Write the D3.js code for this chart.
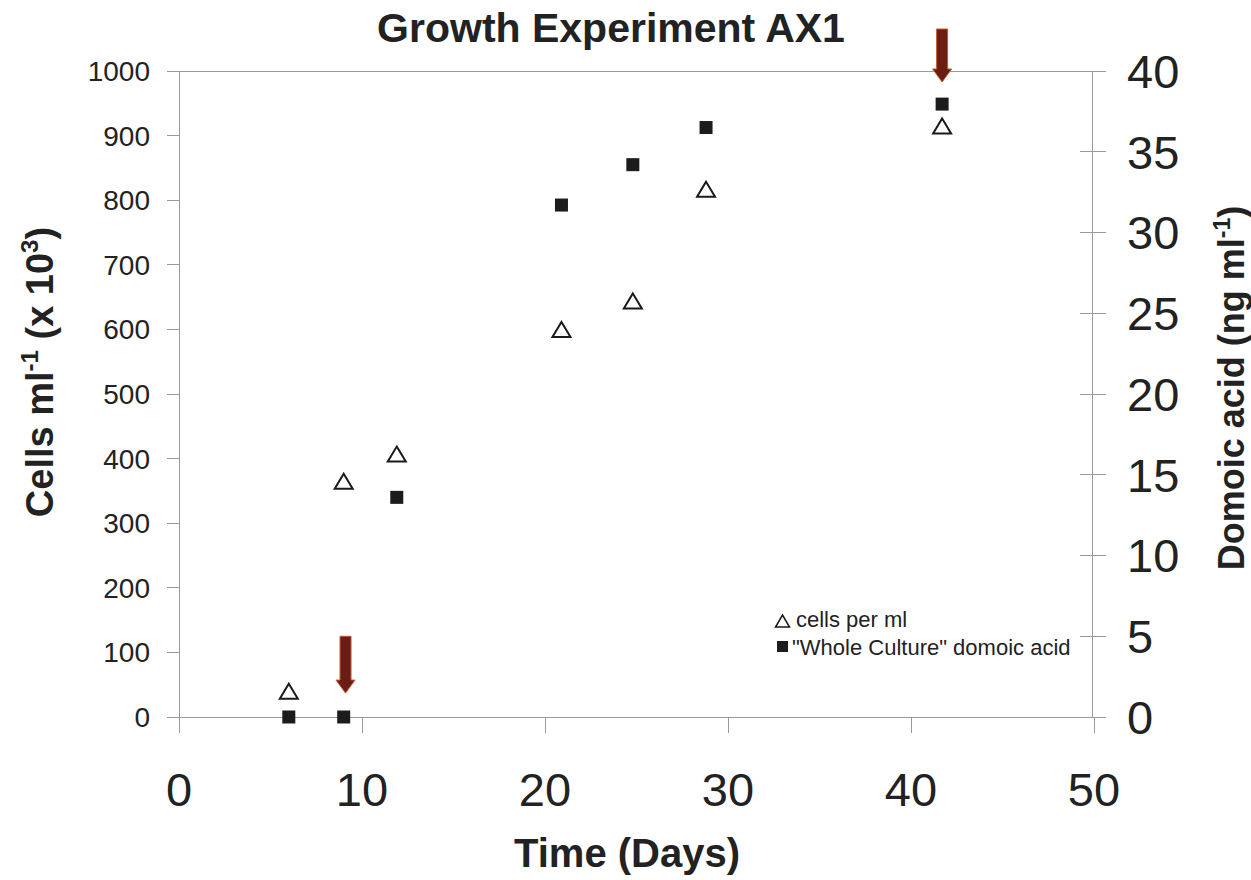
<!DOCTYPE html>
<html>
<head>
<meta charset="utf-8">
<script src="https://cdn.jsdelivr.net/npm/d3@7"></script>
<style>
  html, body { margin: 0; padding: 0; background: #fff; }
  svg { display: block; font-family: "Liberation Sans", Arial, sans-serif; }
</style>
</head>
<body>
<svg id="chart" width="1251" height="880"></svg>
<script>
// Sampling days and measurements
const days = [6, 9, 11.9, 20.9, 24.8, 28.8, 41.7];
const cellsPerMl = [40, 365, 407, 600, 644, 817, 915];          // x 10^3 cells per ml
const domoicAcid = [0, 0, 13.6, 31.7, 34.2, 36.5, 37.95];      // ng per ml

// Tick labels
const xTicks = [0, 10, 20, 30, 40, 50];
const yLeftTicks = [0, 100, 200, 300, 400, 500, 600, 700, 800, 900, 1000];
const yRightTicks = [0, 5, 10, 15, 20, 25, 30, 35, 40];

// Arrow annotations: day, start and end on the cells axis
const arrowDays = [9.1, 41.7];
const arrowFrom = [125, 1065];
const arrowTo = [37, 983];

const svg = d3.select("#chart");
const axisColor = "#9a9a9a";

const x = d3.scaleLinear().domain([0, 50]).range([179, 1094]);
const yL = d3.scaleLinear().domain([0, 1000]).range([717, 71]);
const yR = d3.scaleLinear().domain([0, 40]).range([717, 71]);

// Frame lines: top border, left axis, bottom axis, right axis
const g = svg.append("g").attr("stroke", axisColor).attr("stroke-width", 1).attr("shape-rendering", "crispEdges");
g.append("line").attr("x1", x(0) - 12).attr("x2", x(50) + 12).attr("y1", yL(1000)).attr("y2", yL(1000));
g.append("line").attr("x1", x(0)).attr("x2", x(0)).attr("y1", yL(1000)).attr("y2", yL(0) + 16);
g.append("line").attr("x1", x(0) - 12).attr("x2", x(50) + 12).attr("y1", yL(0)).attr("y2", yL(0));
g.append("line").attr("x1", x(50) - 2).attr("x2", x(50) - 2).attr("y1", yR(40)).attr("y2", yR(0));

// Left ticks
g.selectAll(".lt").data(yLeftTicks).join("line")
  .attr("x1", x(0) - 12).attr("x2", x(0))
  .attr("y1", d => yL(d)).attr("y2", d => yL(d));
// Right ticks (cross)
g.selectAll(".rt").data(yRightTicks).join("line")
  .attr("x1", x(50) - 14).attr("x2", x(50) + 12)
  .attr("y1", d => yR(d)).attr("y2", d => yR(d));
// Bottom ticks
g.selectAll(".bt").data(xTicks).join("line")
  .attr("x1", d => x(d)).attr("x2", d => x(d))
  .attr("y1", yL(0)).attr("y2", yL(0) + 16);

// Tick labels
svg.append("g").selectAll("text").data(yLeftTicks).join("text")
  .attr("x", 150).attr("y", d => yL(d)).attr("dy", "0.36em")
  .attr("text-anchor", "end").attr("font-size", 28).attr("fill", "#222")
  .text(d => d);
svg.append("g").selectAll("text").data(yRightTicks).join("text")
  .attr("x", 1127).attr("y", d => yR(d)).attr("dy", "0.36em")
  .attr("text-anchor", "start").attr("font-size", 47).attr("fill", "#222")
  .text(d => d);
svg.append("g").selectAll("text").data(xTicks).join("text")
  .attr("x", d => x(d)).attr("y", 806)
  .attr("text-anchor", "middle").attr("font-size", 47).attr("fill", "#222")
  .text(d => d);

// Titles
svg.append("text").attr("x", 611).attr("y", 42).attr("text-anchor", "middle")
  .attr("font-size", 41).attr("font-weight", "bold").attr("fill", "#222")
  .text("Growth Experiment AX1");
svg.append("text").attr("x", 627).attr("y", 867).attr("text-anchor", "middle")
  .attr("font-size", 40).attr("font-weight", "bold").attr("fill", "#222")
  .text("Time (Days)");

const leftTitle = svg.append("text")
  .attr("transform", "translate(53,372) rotate(-90)")
  .attr("text-anchor", "middle").attr("font-size", 38).attr("font-weight", "bold").attr("fill", "#222");
leftTitle.append("tspan").text("Cells ml");
leftTitle.append("tspan").attr("font-size", 24).attr("dy", -15).text("-1");
leftTitle.append("tspan").attr("dy", 15).text(" (x 10");
leftTitle.append("tspan").attr("font-size", 24).attr("dy", -15).text("3");
leftTitle.append("tspan").attr("dy", 15).text(")");

const rightTitle = svg.append("text")
  .attr("transform", "translate(1244,388) rotate(-90)")
  .attr("text-anchor", "middle").attr("font-size", 36).attr("font-weight", "bold").attr("fill", "#222");
rightTitle.append("tspan").text("Domoic acid (ng ml");
rightTitle.append("tspan").attr("font-size", 23).attr("dy", -14).text("-1");
rightTitle.append("tspan").attr("dy", 14).text(")");

// Marker shapes
function triPath(cx, cy, w, h) {
  return `M${cx},${cy - h / 2}L${cx + w / 2},${cy + h / 2}L${cx - w / 2},${cy + h / 2}Z`;
}

// Cells per ml: open triangles
svg.append("g").selectAll("path").data(days).join("path")
  .attr("d", (d, i) => triPath(x(d), yL(cellsPerMl[i]), 18, 15))
  .attr("fill", "none").attr("stroke", "#1a1a1a").attr("stroke-width", 2).attr("stroke-linejoin", "miter");

// Domoic acid: filled squares
svg.append("g").selectAll("rect").data(days).join("rect")
  .attr("x", d => x(d) - 6.5).attr("y", (d, i) => yR(domoicAcid[i]) - 6.5)
  .attr("width", 13).attr("height", 13).attr("fill", "#1c1c1c");

// Arrows
const arrows = svg.append("g");
arrowDays.forEach((d, i) => {
  const cx = x(d), y0 = yL(arrowFrom[i]), y1 = yL(arrowTo[i]);
  const head = 13, sw = 5.5, hw = 9.5;
  const p = `M${cx - sw},${y0}L${cx + sw},${y0}L${cx + sw},${y1 - head}L${cx + hw},${y1 - head}` +
            `L${cx},${y1}L${cx - hw},${y1 - head}L${cx - sw},${y1 - head}Z`;
  arrows.append("path").attr("d", p).attr("fill", "#6a1d15")
    .attr("stroke", "#c4582a").attr("stroke-width", 1).attr("stroke-linejoin", "miter");
});

// Legend
const legend = svg.append("g");
legend.append("path").attr("d", triPath(782.5, 621, 14, 12))
  .attr("fill", "none").attr("stroke", "#1a1a1a").attr("stroke-width", 1.5);
legend.append("text").attr("x", 796).attr("y", 627).attr("font-size", 22).attr("fill", "#222")
  .text("cells per ml");
legend.append("rect").attr("x", 777).attr("y", 641).attr("width", 11).attr("height", 11).attr("fill", "#1c1c1c");
legend.append("text").attr("x", 792).attr("y", 655).attr("font-size", 22).attr("fill", "#222")
  .text("\"Whole Culture\" domoic acid");
</script>
</body>
</html>
